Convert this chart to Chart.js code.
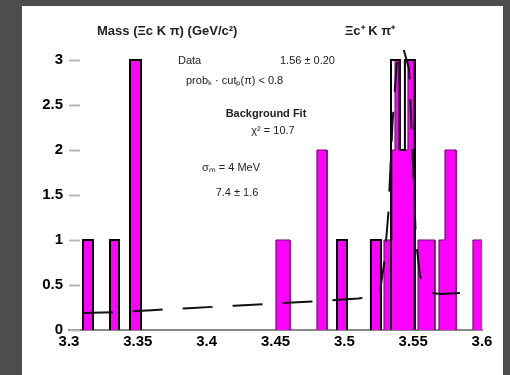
<!DOCTYPE html>
<html><head><meta charset="utf-8">
<script src="https://cdn.jsdelivr.net/npm/chart.js@4/dist/chart.umd.min.js"></script>
<style>html,body{margin:0;padding:0;background:#4d4d4d;}#wrap{width:510px;height:375px;}</style>
</head><body><div id="wrap"><canvas id="c" width="510" height="375"></canvas></div>
<script>
// ---- data ----
// magenta (filled) histogram: bin low edge, bin high edge, entries
const magLo    = [3.3102, 3.3298, 3.3443, 3.4503, 3.4801, 3.4947, 3.5193, 3.5288, 3.5346, 3.5368, 3.5397, 3.5462, 3.5535, 3.5687, 3.5731, 3.5934];
const magHi    = [3.3174, 3.3363, 3.3523, 3.4605, 3.4874, 3.5019, 3.5266, 3.5346, 3.5368, 3.5397, 3.5462, 3.5505, 3.5658, 3.5731, 3.5811, 3.6007];
const magCount = [1, 1, 3, 1, 2, 1, 1, 1, 2, 3, 2, 3, 1, 1, 2, 1];
// black outlined histogram
const outLo    = [3.3102, 3.3298, 3.3443, 3.4947, 3.5193, 3.5339, 3.5404, 3.5440];
const outHi    = [3.3174, 3.3363, 3.3523, 3.5019, 3.5266, 3.5404, 3.5440, 3.5513];
const outCount = [1, 1, 3, 1, 1, 3, 2, 3];
// fit curve (dashed)
const fitX = [3.310, 3.336, 3.360, 3.390, 3.420, 3.450, 3.480, 3.510, 3.522, 3.526, 3.529, 3.532, 3.535, 3.538, 3.5425, 3.547, 3.550, 3.552, 3.555, 3.560, 3.570, 3.584];
const fitY = [0.19, 0.20, 0.22, 0.245, 0.27, 0.295, 0.32, 0.35, 0.37, 0.44, 0.75, 1.3, 2.3, 2.95, 3.15, 2.9, 1.8, 1.0, 0.6, 0.42, 0.40, 0.41];
// ticks
const xTicks = [3.3, 3.35, 3.4, 3.45, 3.5, 3.55, 3.6];
const xTickLabels = ['3.3', '3.35', '3.4', '3.45', '3.5', '3.55', '3.6'];
const yTicks = [0, 0.5, 1, 1.5, 2, 2.5, 3];
const yTickLabels = ['0', '0.5', '1', '1.5', '2', '2.5', '3'];

function histPoints(lo, hi, cnt) {
  const pts = [];
  for (let i = 0; i < lo.length; i++) {
    const joined = i > 0 && Math.abs(hi[i - 1] - lo[i]) < 1e-9;
    if (joined) {
      pts.pop();
      pts.push({x: lo[i], y: cnt[i]});
    } else {
      pts.push({x: lo[i], y: 0});
      pts.push({x: lo[i], y: cnt[i]});
    }
    pts.push({x: hi[i], y: cnt[i]});
    pts.push({x: hi[i], y: 0});
  }
  return pts;
}
const hideBase = col => ctx => (ctx.p0.parsed.y === 0 && ctx.p1.parsed.y === 0) ? 'rgba(0,0,0,0)' : col;

const bgPlugin = {
  id: 'bg',
  beforeDraw(chart) {
    const c = chart.ctx;
    c.save();
    c.fillStyle = '#4d4d4d';
    c.fillRect(0, 0, chart.width, chart.height);
    c.fillStyle = '#ffffff';
    c.fillRect(22, 6, 481, 369);
    c.restore();
  }
};
const tickPlugin = {
  id: 'innerTicks',
  afterDraw(chart) {
    const c = chart.ctx, ys = chart.scales.y, a = chart.chartArea;
    c.save();
    c.strokeStyle = '#b8b8b8';
    c.lineWidth = 2;
    yTicks.forEach(v => {
      const p = Math.round(ys.getPixelForValue(v)) + 0.5;
      c.beginPath(); c.moveTo(a.left, p); c.lineTo(a.left + 11, p); c.stroke();
    });
    c.restore();
  }
};
const textPlugin = {
  id: 'texts',
  afterDraw(chart) {
    const c = chart.ctx;
    c.save();
    c.fillStyle = '#222';
    c.textBaseline = 'middle';
    c.font = 'bold 13px "Liberation Sans", Arial, sans-serif';
    c.textAlign = 'left';
    c.fillText('Mass (Ξc K π) (GeV/c²)', 97, 31);
    c.fillText('Ξc⁺ K π⁺', 345, 31);
    c.font = '11px "Liberation Sans", Arial, sans-serif';
    c.fillText('Data', 178, 61);
    c.fillText('1.56 ± 0.20', 280, 61);
    c.fillText('probₖ · cutₚ(π) < 0.8', 186, 81);
    c.textAlign = 'center';
    c.font = 'bold 11px "Liberation Sans", Arial, sans-serif';
    c.fillText('Background Fit', 266, 114);
    c.font = '11px "Liberation Sans", Arial, sans-serif';
    c.fillText('χ² = 10.7', 273, 131);
    c.fillText('σₘ = 4 MeV', 231, 168);
    c.fillText('7.4 ± 1.6', 237, 193);
    c.restore();
  }
};

const tickFont = {family: '"Liberation Sans", Arial, sans-serif', size: 15, weight: 'bold'};

new Chart(document.getElementById('c'), {
  type: 'line',
  data: {
    datasets: [
      {
        label: 'fit',
        data: fitX.map((x, i) => ({x, y: fitY[i]})),
        borderColor: '#111',
        borderWidth: 2,
        borderDash: [30, 20],
        pointRadius: 0,
        fill: false,
        tension: 0,
        order: 0
      },
      {
        label: 'outline',
        data: histPoints(outLo, outHi, outCount),
        borderColor: '#000',
        borderWidth: 2,
        segment: {borderColor: hideBase('#000')},
        pointRadius: 0,
        fill: false,
        tension: 0,
        order: 1
      },
      {
        label: 'signal',
        data: histPoints(magLo, magHi, magCount),
        borderColor: '#6a006a',
        borderWidth: 1,
        segment: {borderColor: hideBase('#6a006a')},
        backgroundColor: '#ff00ff',
        pointRadius: 0,
        fill: 'origin',
        tension: 0,
        order: 2
      }
    ]
  },
  options: {
    responsive: false,
    devicePixelRatio: 1,
    animation: false,
    layout: {padding: {left: 0, right: 28, top: 33, bottom: 0}},
    plugins: {legend: {display: false}, tooltip: {enabled: false}, title: {display: false}},
    scales: {
      x: {
        type: 'linear', min: 3.3, max: 3.6,
        afterBuildTicks: s => { s.ticks = xTicks.map(v => ({value: v})); },
        afterFit: s => { s.height = 45; },
        grid: {display: false, drawTicks: false},
        border: {display: true, color: '#888', width: 2},
        ticks: {color: '#000', font: tickFont, padding: 3, maxRotation: 0, autoSkip: false,
                callback: (v, i) => xTickLabels[i]}
      },
      y: {
        type: 'linear', min: 0, max: 3.3,
        afterBuildTicks: s => { s.ticks = yTicks.map(v => ({value: v})); },
        afterFit: s => { s.width = 69; },
        grid: {display: false, drawTicks: false},
        border: {display: false},
        ticks: {color: '#000', font: tickFont, padding: 6, autoSkip: false,
                callback: (v, i) => yTickLabels[i]}
      }
    }
  },
  plugins: [bgPlugin, tickPlugin, textPlugin]
});
</script>
</body></html>
